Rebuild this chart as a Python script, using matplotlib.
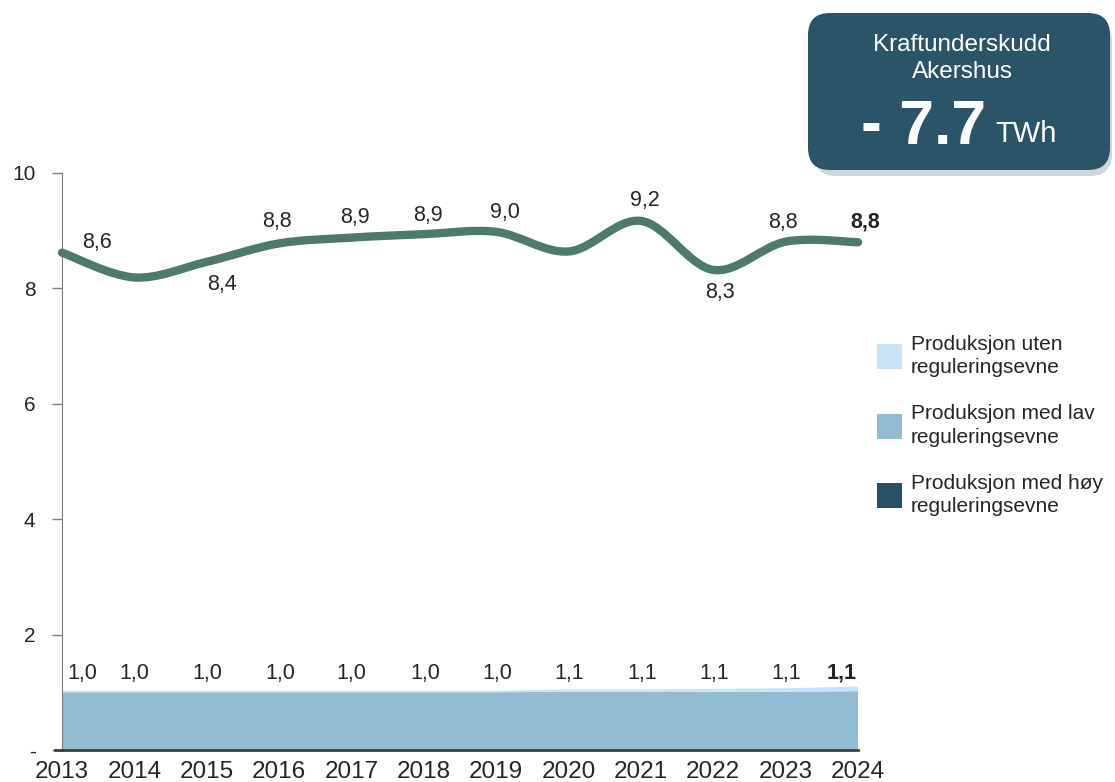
import matplotlib.pyplot as plt
import numpy as np
from matplotlib.path import Path
from matplotlib.patches import PathPatch, FancyBboxPatch, Patch
from matplotlib.transforms import IdentityTransform

plt.rcParams['font.family'] = ['Liberation Sans', 'DejaVu Sans']

years = [2013, 2014, 2015, 2016, 2017, 2018, 2019, 2020, 2021, 2022, 2023, 2024]
# total consumption line (TWh)
forbruk = [8.62, 8.19, 8.46, 8.78, 8.88, 8.94, 8.98, 8.64, 9.17, 8.32, 8.81, 8.80]
# production, stacked
prod_lav = [1.0, 1.0, 1.0, 1.0, 1.0, 1.0, 1.0, 1.01, 1.01, 1.01, 1.01, 1.02]
prod_uten = [0.03, 0.03, 0.03, 0.03, 0.03, 0.03, 0.03, 0.04, 0.04, 0.05, 0.06, 0.08]
prod_hoy = [0.0] * 12

line_labels = ['8,6', None, '8,4', '8,8', '8,9', '8,9', '9,0', None, '9,2', '8,3', '8,8', '8,8']
prod_labels = ['1,0', '1,0', '1,0', '1,0', '1,0', '1,0', '1,0', '1,1', '1,1', '1,1', '1,1', '1,1']
legend_names = ['Produksjon uten\nreguleringsevne', 'Produksjon med lav\nreguleringsevne',
                'Produksjon med høy\nreguleringsevne']

c_uten = '#c6e4f5'
c_lav = '#93bcd3'
c_hoy = '#2a5064'
c_line = '#4d7b69'
c_box = '#2b5468'

fig = plt.figure(figsize=(11.15, 7.82), dpi=100)
ax = fig.add_axes([62 / 1115, 1 - 750 / 782, (858 - 62) / 1115, (750 - 173) / 782])

x = np.array(years, dtype=float)
lav = np.array(prod_lav)
uten = np.array(prod_uten)
ax.stackplot(x, lav, uten, prod_hoy, colors=[c_lav, c_uten, c_hoy], linewidth=0)

# smooth line through the points (catmull-rom -> bezier)
y = np.array(forbruk)
verts = [(x[0], y[0])]
codes = [Path.MOVETO]
for i in range(len(x) - 1):
    p0 = (x[max(i - 1, 0)], y[max(i - 1, 0)])
    p1 = (x[i], y[i])
    p2 = (x[i + 1], y[i + 1])
    p3 = (x[min(i + 2, len(x) - 1)], y[min(i + 2, len(x) - 1)])
    c1 = (p1[0] + (p2[0] - p0[0]) / 6, p1[1] + (p2[1] - p0[1]) / 6)
    c2 = (p2[0] - (p3[0] - p1[0]) / 6, p2[1] - (p3[1] - p1[1]) / 6)
    verts += [c1, c2, p2]
    codes += [Path.CURVE4] * 3
ax.add_patch(PathPatch(Path(verts, codes), facecolor='none', edgecolor=c_line,
                       lw=6, capstyle='round', clip_on=False, zorder=3))

# labels on the line (offsets in pixels)
line_off = [(35, 10), None, (15, -23), (-2, 22), (3, 20), (4, 19), (9, 19), None,
            (4, 20), (7, -23), (-3, 19), (7, 20)]
for i, lab in enumerate(line_labels):
    if lab is None:
        continue
    dx, dy = line_off[i]
    ax.annotate(lab, (x[i], y[i]), xytext=(dx * 0.72, dy * 0.72), textcoords='offset points',
                ha='center', va='center', fontsize=15.5, color='#262626',
                fontweight='bold' if i == len(years) - 1 else 'normal', annotation_clip=False)

tot = lav + uten
prod_off = [20, 0, 1, 1, 0, 1, 1, 1, 1, 1, 1, -16]
for i, lab in enumerate(prod_labels):
    ax.annotate(lab, (x[i], tot[i]), xytext=(prod_off[i] * 0.72, 19 * 0.72 - (tot[i] - 1) * 40),
                textcoords='offset points', ha='center', va='center', fontsize=15.5,
                color='#262626', fontweight='bold' if i == len(years) - 1 else 'normal',
                annotation_clip=False)

ax.set_xlim(2013, 2024)
ax.set_ylim(0, 10)
ax.set_xticks(years)
ax.set_xticklabels([str(v) for v in years])
ax.set_yticks([0, 2, 4, 6, 8, 10])
ax.set_yticklabels(['-', '2', '4', '6', '8', '10'])
ax.tick_params(axis='x', length=0, pad=8, labelsize=17.5, labelcolor='#262626')
ax.tick_params(axis='y', length=7, width=1, color='#7f7f7f', pad=12, labelsize=15,
               labelcolor='#262626')
for s in ['top', 'right']:
    ax.spines[s].set_visible(False)
ax.spines['left'].set_color('#7f7f7f')
ax.spines['bottom'].set_color('#404040')
ax.spines['bottom'].set_linewidth(2)
ax.spines['bottom'].set_zorder(4)
ax.plot([2012.9, 2013], [0, 0], color='#404040', lw=2, clip_on=False)

# legend
handles = [Patch(facecolor=c, edgecolor='none') for c in [c_uten, c_lav, c_hoy]]
leg = fig.legend(handles, legend_names, loc='upper left',
                 bbox_to_anchor=(858 / 1115, 1 - 316 / 782), frameon=False, fontsize=15,
                 handlelength=1.2, handleheight=1.45, handletextpad=0.45,
                 labelspacing=1.3, labelcolor='#262626')
for t in leg.get_texts():
    t.set_linespacing(1.3)

# info box
tr = IdentityTransform()
fig.patches.append(FancyBboxPatch((814, 606), 298, 157, boxstyle='round,pad=0,rounding_size=22',
                                  transform=tr, facecolor='#9aa6ad', edgecolor='none', alpha=0.45,
                                  figure=fig))
fig.patches.append(FancyBboxPatch((808, 612), 302, 157, boxstyle='round,pad=0,rounding_size=22',
                                  transform=tr, facecolor=c_box, edgecolor='none', figure=fig))
fig.text(962 / 1115, 1 - 45 / 782, 'Kraftunderskudd', ha='center', va='center', color='white',
         fontsize=17.5)
fig.text(962 / 1115, 1 - 72 / 782, 'Akershus', ha='center', va='center', color='white',
         fontsize=17.5)
fig.text(986 / 1115, 1 - 128 / 782, '- 7.7', ha='right', va='center', color='white',
         fontsize=45, fontweight='bold')
fig.text(995 / 1115, 1 - 134 / 782, 'TWh', ha='left', va='center', color='white', fontsize=21)

fig.savefig('out.png', dpi=100)
